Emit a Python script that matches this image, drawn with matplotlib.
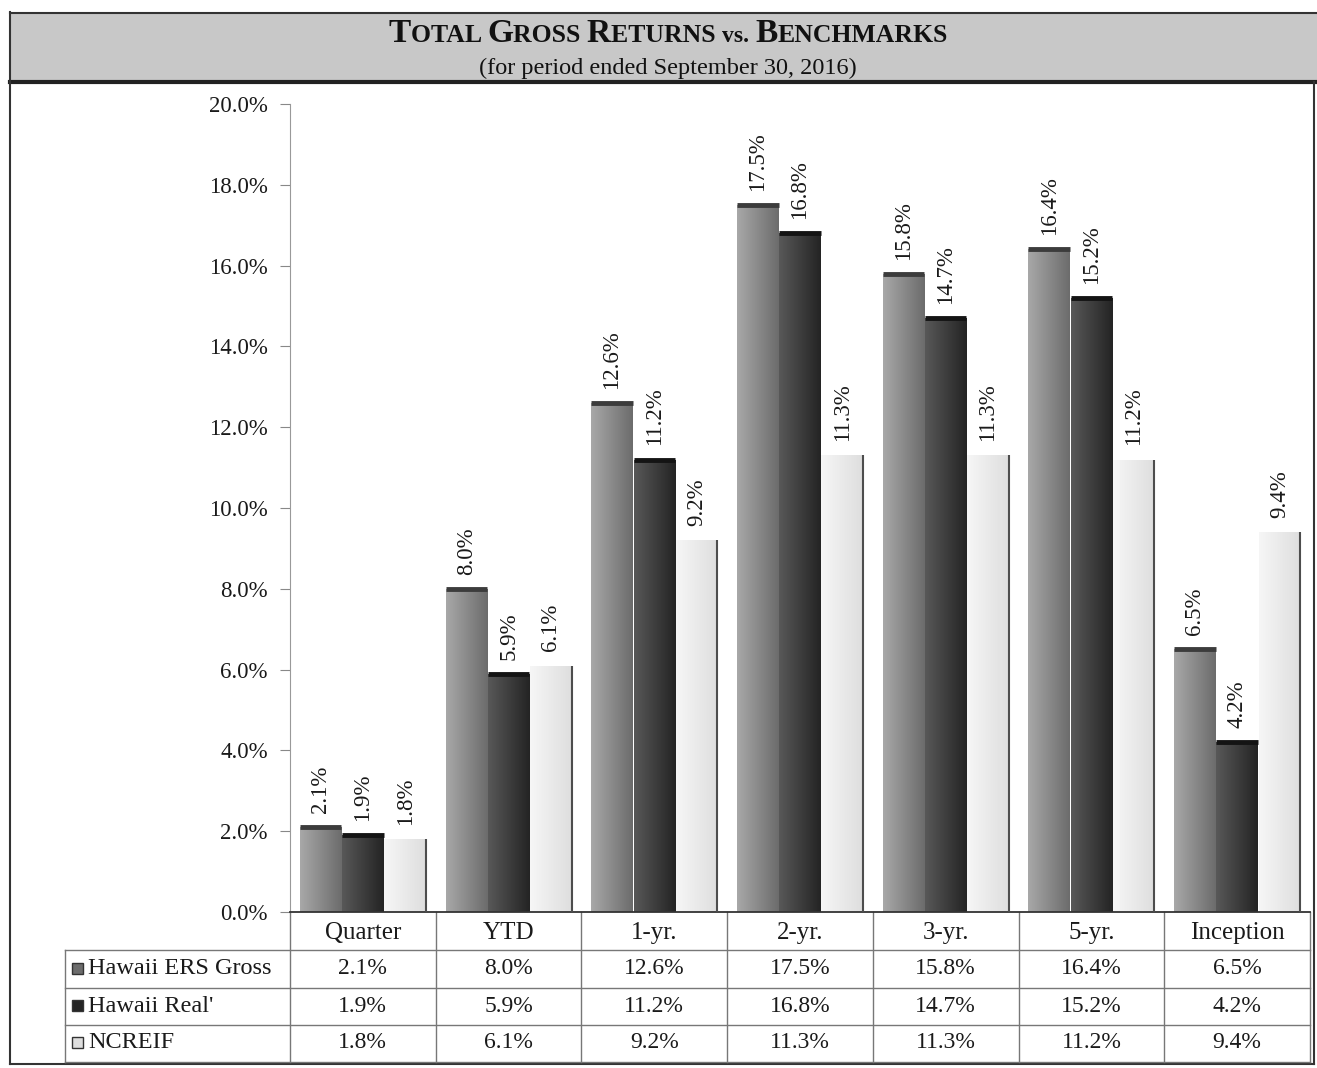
import numpy as np
import matplotlib
matplotlib.use('Agg')
import matplotlib.pyplot as plt
from matplotlib.colors import LinearSegmentedColormap
from matplotlib.patches import Rectangle
from matplotlib.transforms import blended_transform_factory

periods = ['Quarter', 'YTD', '1-yr.', '2-yr.', '3-yr.', '5-yr.', 'Inception']
ers_gross = [2.1, 8.0, 12.6, 17.5, 15.8, 16.4, 6.5]
hawaii_real = [1.9, 5.9, 11.2, 16.8, 14.7, 15.2, 4.2]
ncreif = [1.8, 6.1, 9.2, 11.3, 11.3, 11.2, 9.4]
series_names = ['Hawaii ERS Gross', "Hawaii Real'", 'NCREIF']
yticks = np.arange(0, 21, 2)

W, H = 1317, 1068
plt.rcParams['font.family'] = ['Liberation Serif', 'DejaVu Serif']
fig = plt.figure(figsize=(W / 100, H / 100), dpi=100)

# full-figure pixel canvas for frame, title and table
bg = fig.add_axes([0, 0, 1, 1])
bg.set_xlim(0, W)
bg.set_ylim(H, 0)
bg.axis('off')

ax = fig.add_axes([290 / W, 1 - 912 / H, 1020 / W, 808 / H])
ax.set_facecolor('none')

x = np.arange(len(periods))
width = 0.285
offsets = [-0.29, 0.0, 0.29]
series = [ers_gross, hawaii_real, ncreif]
shades = [('#a8a8a8', '#6c6c6c'), ('#585858', '#242424'), ('#f6f6f6', '#dedede')]
tops = ['#3c3c3c', '#141414', None]

for vals, off, (c0, c1), top in zip(series, offsets, shades, tops):
    cmap = LinearSegmentedColormap.from_list('bar', [c0, c1])
    bars = ax.bar(x + off, vals, width, color=c1, linewidth=0, zorder=1)
    for b in bars:
        im = ax.imshow(np.linspace(0, 1, 64).reshape(1, -1), cmap=cmap, aspect='auto',
                       extent=[b.get_x(), b.get_x() + b.get_width(), 0, b.get_height()],
                       zorder=2)
        im.set_clip_path(b)
    if top is not None:
        ax.hlines(vals, x + off - width / 2, x + off + width / 2, color=top, lw=3.5, zorder=3)
    else:
        ax.vlines(x + off + width / 2, 0, vals, color='#4d4d4d', lw=1.5, zorder=3)
    for xi, v in zip(x + off, vals):
        ax.text(xi, v + 0.35, f'{v:.1f}%', rotation=90, ha='center', va='bottom',
                fontsize=16.5, color='#1a1a1a')

ax.set_xlim(-0.5, len(periods) - 0.5)
ax.set_ylim(0, 20)
ax.set_yticks(yticks)
ax.set_yticklabels([f'{t:.1f}%' for t in yticks])
ax.set_xticks([])
ax.tick_params(axis='y', length=7, pad=9, labelsize=16.5, color='#888888', labelcolor='#1a1a1a')
for s in ['top', 'right']:
    ax.spines[s].set_visible(False)
ax.spines['left'].set_color('#999999')
ax.spines['left'].set_linewidth(0.8)
ax.spines['bottom'].set_color('#333333')
ax.spines['bottom'].set_linewidth(1.3)

# frame and title band
bg.add_patch(Rectangle((10, 12), W - 10, 70, facecolor='#c8c8c8', edgecolor='none', zorder=0))
bg.plot([10, W], [13, 13], color='#333333', lw=1.5)
bg.plot([10, W], [82, 82], color='#222222', lw=3)
bg.plot([10, 10], [12, 1064], color='#333333', lw=1.5)
bg.plot([10, 1314], [1064, 1064], color='#333333', lw=1.5)
bg.plot([1314, 1314], [82, 1064], color='#333333', lw=1.5)

renderer = fig.canvas.get_renderer()


def small_caps(xc, y, pieces):
    texts = [bg.text(0, y, s, fontsize=fs, fontweight='bold', va='baseline', ha='left',
                     color='#111111') for s, fs in pieces]
    widths = [t.get_window_extent(renderer).width for t in texts]
    x0 = xc - sum(widths) / 2
    for t, w in zip(texts, widths):
        t.set_x(x0)
        x0 += w


small_caps(668, 42, [('T', 24), ('OTAL ', 18.5), ('G', 24), ('ROSS ', 18.5), ('R', 24),
                     ('ETURNS ', 18.5), ('vs. ', 17), ('B', 24), ('ENCHMARKS', 18.5)])
bg.text(668, 74, '(for period ended September 30, 2016)', ha='center', va='baseline',
        fontsize=17.5, color='#111111')

# data table under the chart
tr = blended_transform_factory(ax.transData, bg.transData)
row_y = [969, 1006, 1043]
for edge in np.arange(len(periods) + 1) - 0.5:
    bg.plot([edge, edge], [912, 1062], color='#777777', lw=1, transform=tr)
for yl in [950, 988, 1025, 1062]:
    bg.plot([65, 1310], [yl, yl], color='#777777', lw=1)
bg.plot([65, 65], [950, 1062], color='#777777', lw=1)

for xi, p in zip(x, periods):
    bg.text(xi, 933, p, ha='center', va='center', fontsize=18, color='#1a1a1a', transform=tr)
for yr, vals, name, (c0, c1) in zip(row_y, series, series_names, shades):
    bg.add_patch(Rectangle((72, yr - 6), 11, 11, facecolor=c1,
                           edgecolor='#333333', lw=1))
    bg.text(88, yr, name, ha='left', va='center', fontsize=17.5, color='#1a1a1a')
    for xi, v in zip(x, vals):
        bg.text(xi, yr, f'{v:.1f}%', ha='center', va='center', fontsize=17,
                color='#1a1a1a', transform=tr)

fig.savefig('out.png', dpi=100)
